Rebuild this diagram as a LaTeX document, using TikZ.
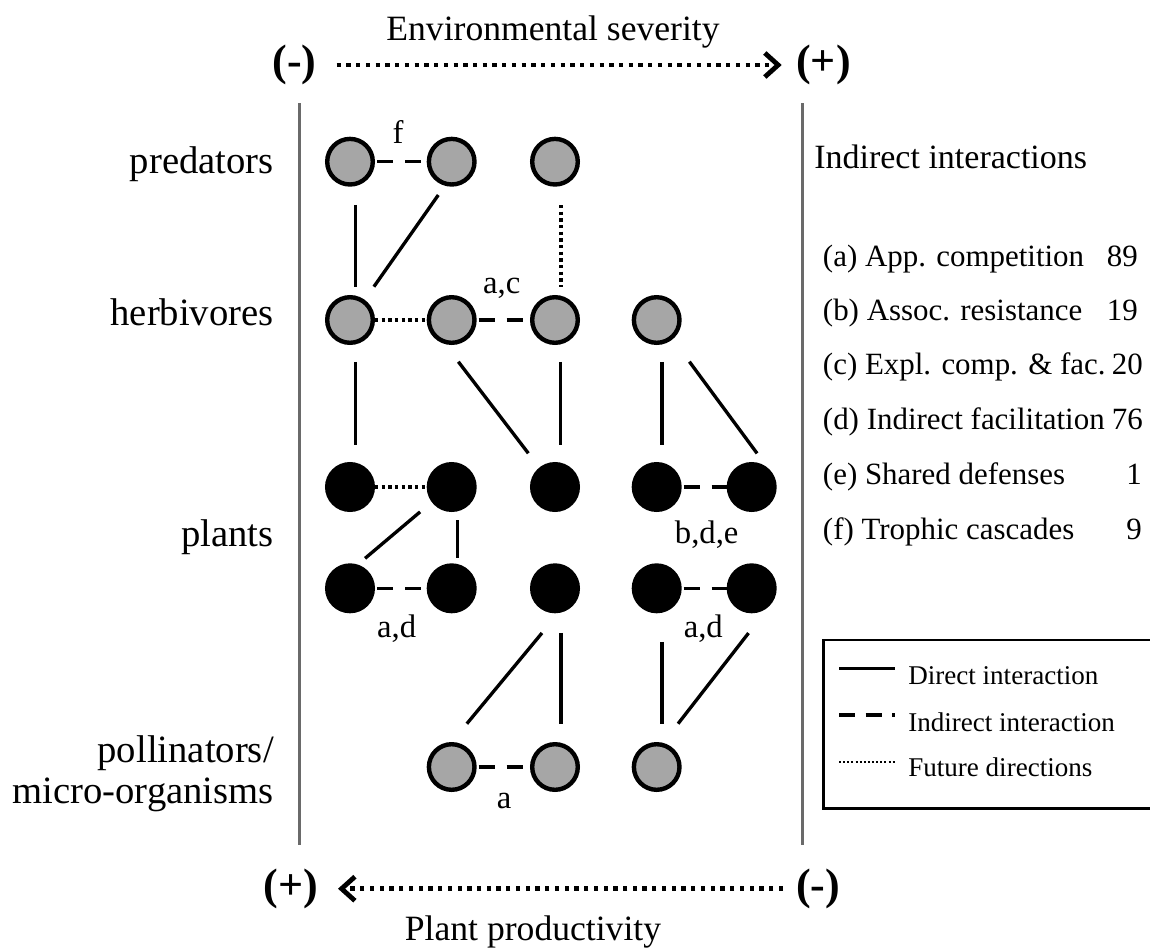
\documentclass[tikz,border=0pt]{standalone}
\usepackage{fontspec}
\setmainfont{Liberation Serif}
\usetikzlibrary{arrows.meta}
\definecolor{circgray}{HTML}{A6A6A6}
\definecolor{framegray}{HTML}{6A6A6A}
\begin{document}
\begin{tikzpicture}[x=0.75pt,y=-0.75pt,
  sp/.style={circle,draw=black,line width=3.3pt,inner sep=0pt,minimum size=34.2pt},
  grayn/.style={sp,fill=circgray},
  blackn/.style={sp,fill=black},
  direct/.style={line width=2.5pt},
  indirect/.style={line width=2.5pt,dash pattern=on 12pt off 9pt,shorten <=1.5pt},
  future/.style={line width=2.6pt,dash pattern=on 2.4pt off 2.6pt},
  axisarrow/.style={line width=3.4pt,dash pattern=on 3.2pt off 4.1pt,-{Straight Barb[length=10pt,width=18pt,line width=3.6pt]}},
  framel/.style={line width=2.25pt,draw=framegray},
  rowlab/.style={inner sep=0pt,anchor=base east,font=\fontsize{29}{32}\selectfont},
  pm/.style={inner sep=0pt,font=\fontsize{33}{36}\selectfont\bfseries},
  axtitle/.style={inner sep=0pt,anchor=base,font=\fontsize{26.7}{30}\selectfont},
  lab/.style={inner sep=0pt,anchor=base,font=\fontsize{24.5}{28}\selectfont},
  item/.style={inner sep=0pt,anchor=base west,font=\fontsize{23.2}{26}\selectfont},
  num/.style={inner sep=0pt,anchor=base east,font=\fontsize{23.2}{26}\selectfont},
  legt/.style={inner sep=0pt,anchor=base west,font=\fontsize{20.3}{24}\selectfont}
]
\useasboundingbox (0,0) rectangle (1150,947);

% axis titles and signs
\node[axtitle] (envsev) at (553,40) {Environmental severity};
\node[pm,anchor=east] (mtop) at (316.7,65) {(-)};
\node[pm,anchor=west] (ptop) at (796,65) {(+)};
\draw[axisarrow,shorten <=15pt,shorten >=10.7pt] (mtop) -- (ptop);

\node[pm,anchor=east] (pbot) at (318,888.7) {(+)};
\node[pm,anchor=west] (mbot) at (796,888.7) {(-)};
\draw[axisarrow,shorten <=9.75pt,shorten >=15pt] (mbot) -- (pbot);
\node[axtitle] (plprod) at (533,940) {Plant productivity};

% frame lines
\coordinate (fl1) at (299,103);
\coordinate (fl2) at (299,845);
\coordinate (fr1) at (802,103);
\coordinate (fr2) at (802,845);
\draw[framel] (fl1) -- (fl2);
\draw[framel] (fr1) -- (fr2);

% row labels
\node[rowlab] (lpred) at (274,173) {predators};
\node[rowlab] (lherb) at (274,325) {herbivores};
\node[rowlab] (lplant) at (274,546.7) {plants};
\node[rowlab] (lpoll1) at (274,762) {pollinators/};
\node[rowlab] (lpoll2) at (274,803.5) {micro-organisms};

% nodes
\node[grayn] (p1) at (350,161.7) {};
\node[grayn] (p2) at (451.7,161.7) {};
\node[grayn] (p3) at (555,161.7) {};

\node[grayn] (h1) at (350,320) {};
\node[grayn] (h2) at (451.7,320) {};
\node[grayn] (h3) at (555,320) {};
\node[grayn] (h4) at (656.7,320) {};

\node[blackn] (c1) at (350,487) {};
\node[blackn] (c2) at (451.7,487) {};
\node[blackn] (c3) at (555,487) {};
\node[blackn] (c4) at (656.7,487) {};
\node[blackn] (c5) at (751.7,487) {};

\node[blackn] (d1) at (350,588.3) {};
\node[blackn] (d2) at (451.7,588.3) {};
\node[blackn] (d3) at (555,588.3) {};
\node[blackn] (d4) at (656.7,588.3) {};
\node[blackn] (d5) at (751.7,588.3) {};

\node[grayn] (q1) at (451.7,767) {};
\node[grayn] (q2) at (555,767) {};
\node[grayn] (q3) at (656.7,767) {};

% horizontal links
\draw[indirect] (p1) -- (p2);
\draw[future] (h1) -- (h2);
\draw[indirect] (h2) -- (h3);
\draw[future] (c1) -- (c2);
\draw[indirect] (c4) -- (c5);
\draw[indirect] (d1) -- (d2);
\draw[indirect] (d4) -- (d5);
\draw[indirect] (q1) -- (q2);

% vertical / diagonal links
\draw[direct,shorten <=14.1pt,shorten >=6.6pt] (p1.-78.5) -- (h1.78.5);
\draw[direct,shorten <=8.5pt,shorten >=12pt] (p2.-106) -- (h1.54);
\draw[future,shorten <=14.3pt,shorten >=6.8pt] (p3.-76) -- (h3.76);

\draw[direct,shorten <=13.1pt,shorten >=13.1pt] (h1.-78.5) -- (c1.78.5);
\draw[direct,shorten <=16.7pt,shorten >=13.5pt] (h2.-106) -- (c3.129);
\draw[direct,shorten <=13.1pt,shorten >=13.1pt] (h3.-78) -- (c3.78);
\draw[direct,shorten <=13.1pt,shorten >=13.1pt] (h4.-78.5) -- (c4.78.5);
\draw[direct,shorten <=21pt,shorten >=13.5pt] (h4.-50) -- (c5.50);

\draw[direct,shorten <=11.4pt,shorten >=7.2pt] (c2.-143.5) -- (d1.72);
\draw[direct,shorten <=6.5pt,shorten >=4.4pt] (c2.-77) -- (d2.77);

\draw[direct,shorten <=19.4pt,shorten >=17.8pt] (d3.-82.6) -- (q1.90);
\draw[direct,shorten <=15.3pt,shorten >=14.3pt] (d3.-76) -- (q2.76);
\draw[direct,shorten <=21.9pt,shorten >=14.1pt] (d4.-78.5) -- (q3.78.5);
\draw[direct,shorten <=28.9pt,shorten >=18.2pt] (d5.-35) -- (q3.75);

% link labels
\node[lab] (lf) at (398,143.3) {f};
\node[lab] (lac) at (501.7,293.3) {a,c};
\node[lab] (lbde) at (706.7,543.3) {b,d,e};
\node[lab] (lad1) at (396.7,637) {a,d};
\node[lab] (lad2) at (703.3,637) {a,d};
\node[lab] (la) at (504,808.7) {a};

% indirect interactions list
\node[inner sep=0pt,anchor=base west,font=\fontsize{25.5}{29}\selectfont] (ihead) at (814,168.5) {Indirect interactions};
\node[item] (ia) at (822.7,266) {(a) App. competition};
\node[num] (na) at (1138,266) {89};
\node[item] (ib) at (822.7,320) {(b) Assoc. resistance};
\node[num] (nb) at (1138,320) {19};
\node[item] (ic) at (822.7,374.6) {(c) Expl. comp. \& fac.};
\node[num] (nc) at (1143,374.6) {20};
\node[item] (id) at (822.7,429.6) {(d) Indirect facilitation};
\node[num] (nd) at (1143,429.6) {76};
\node[item] (ie) at (822.7,484.6) {(e) Shared defenses};
\node[num] (ne) at (1142,484.6) {1};
\node[item] (iff) at (822.7,539.6) {(f) Trophic cascades};
\node[num] (nf) at (1142,539.6) {9};

% legend
\coordinate (legA) at (823.3,640);
\coordinate (legB) at (1165,808.3);
\draw[line width=2.1pt] (legA) rectangle (legB);
\coordinate (s1a) at (839,668.3);
\coordinate (s1b) at (895,668.3);
\coordinate (s2a) at (839,715);
\coordinate (s2b) at (895,715);
\coordinate (s3a) at (839,761.7);
\coordinate (s3b) at (895,761.7);
\draw[direct] (s1a) -- (s1b);
\draw[line width=2.5pt,dash pattern=on 12pt off 8pt] (s2a) -- (s2b);
\draw[line width=1.5pt,dash pattern=on 1.5pt off 1.6pt] (s3a) -- (s3b);
\node[legt] (t1) at (908,684.5) {Direct interaction};
\node[legt] (t2) at (908,731) {Indirect interaction};
\node[legt] (t3) at (908,776) {Future directions};
\end{tikzpicture}
\end{document}
